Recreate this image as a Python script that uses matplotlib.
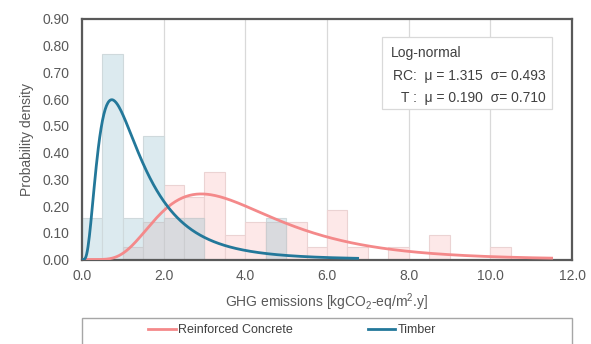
import numpy as np
import matplotlib
matplotlib.use("Agg")
import matplotlib.pyplot as plt
from matplotlib.patches import Rectangle

plt.rcParams['font.family'] = ['Liberation Sans', 'DejaVu Sans']
plt.rcParams['mathtext.fontset'] = 'custom'
plt.rcParams['mathtext.rm'] = 'Liberation Sans'
plt.rcParams['mathtext.it'] = 'Liberation Sans'

# ---- data ----
bin_edges = [0.0, 0.5, 1.0, 1.5, 2.0, 2.5, 3.0, 3.5, 4.0, 4.5, 5.0,
             5.5, 6.0, 6.5, 7.0, 7.5, 8.0, 8.5, 9.0, 9.5, 10.0, 10.5]
rc_density = [0.0, 0.0, 0.0465, 0.140, 0.279, 0.233, 0.326, 0.093, 0.140, 0.140,
              0.140, 0.0465, 0.186, 0.0465, 0.0, 0.0465, 0.0, 0.093, 0.0, 0.0, 0.0465]
timber_density = [0.154, 0.769, 0.154, 0.462, 0.154, 0.154, 0.0, 0.0, 0.0, 0.154,
                  0.0, 0.0, 0.0, 0.0, 0.0, 0.0, 0.0, 0.0, 0.0, 0.0, 0.0]
rc_mu, rc_sigma = 1.315, 0.493
t_mu, t_sigma = 0.190, 0.710
rc_range = (0.05, 11.5)
t_range = (0.03, 6.75)
x_ticks = [0, 2, 4, 6, 8, 10, 12]
y_ticks = [0.0, 0.1, 0.2, 0.3, 0.4, 0.5, 0.6, 0.7, 0.8, 0.9]


def lognorm_pdf(x, mu, s):
    return np.exp(-(np.log(x) - mu) ** 2 / (2 * s ** 2)) / (x * s * np.sqrt(2 * np.pi))


fig = plt.figure(figsize=(5.91, 3.44), dpi=100)
ax = fig.add_axes([0.1387, 0.2456, 0.8292, 0.6992])

left = np.array(bin_edges[:-1])
width = np.diff(bin_edges)
rc = np.array(rc_density)
tb = np.array(timber_density)
ov = np.minimum(rc, tb)

ax.bar(left, rc, width=width, align='edge', color='#FDE8E8', edgecolor='#EBD3D3', linewidth=0.8, zorder=2)
ax.bar(left, tb, width=width, align='edge', color='#DCEAEF', edgecolor='#CFD9DC', linewidth=0.8, zorder=2)
ax.bar(left, ov, width=width, align='edge', color='#D9DADE', edgecolor='#CCCDD0', linewidth=0.8, zorder=2)

xr = np.linspace(rc_range[0], rc_range[1], 400)
xt = np.linspace(t_range[0], t_range[1], 400)
ax.plot(xr, lognorm_pdf(xr, rc_mu, rc_sigma), color='#F4898A', lw=2.0, zorder=4,
        label='Reinforced Concrete')
ax.plot(xt, lognorm_pdf(xt, t_mu, t_sigma), color='#23789A', lw=2.0, zorder=5,
        label='Timber')

ax.set_xlim(0, 12)
ax.set_ylim(0, 0.9)
ax.set_xticks(x_ticks)
ax.set_xticklabels([f'{v:.1f}' for v in x_ticks])
ax.set_yticks(y_ticks)
ax.set_yticklabels([f'{v:.2f}' for v in y_ticks])
ax.tick_params(length=0, labelsize=10, colors='#595959')
ax.tick_params(axis='x', pad=7)
ax.tick_params(axis='y', pad=9)
ax.grid(axis='x', color='#D9D9D9', lw=0.9, zorder=1)
ax.set_axisbelow(True)
for sp in ax.spines.values():
    sp.set_color('#595959')
    sp.set_linewidth(1.6)

ax.set_xlabel(r'GHG emissions [kgCO$_2$-eq/m$^2$.y]', fontsize=10, color='#595959', labelpad=6)
ax.set_ylabel('Probability density', fontsize=10, color='#595959', labelpad=6)

# annotation box
ax.add_patch(Rectangle((0.612, 0.626), 0.348, 0.298, transform=ax.transAxes,
                       facecolor='white', edgecolor='#D9D9D9', lw=0.9, zorder=6))
ax.text(0.630, 0.860, 'Log-normal', transform=ax.transAxes, fontsize=10,
        color='#404040', va='center', ha='left', zorder=7)
ax.text(0.947, 0.762, 'RC:  μ = 1.315  σ= 0.493', transform=ax.transAxes, fontsize=10,
        color='#404040', va='center', ha='right', zorder=7)
ax.text(0.947, 0.670, 'T :  μ = 0.190  σ= 0.710', transform=ax.transAxes, fontsize=10,
        color='#404040', va='center', ha='right', zorder=7)

# legend below
fig.patches.append(Rectangle((82 / 591, -0.1), 490 / 591, 0.1 + 1 - 318 / 344,
                             transform=fig.transFigure, facecolor='white',
                             edgecolor='#A6A6A6', lw=1.0, zorder=0))
handles, labels = ax.get_legend_handles_labels()
fig.legend(handles, labels, loc='center left', bbox_to_anchor=(148 / 591, 1 - 330 / 344),
           ncol=2, frameon=False, fontsize=9, handlelength=2.2, handletextpad=0.2,
           columnspacing=6.0, borderpad=0, borderaxespad=0, labelcolor='#404040')

fig.savefig('out.png', dpi=100)
